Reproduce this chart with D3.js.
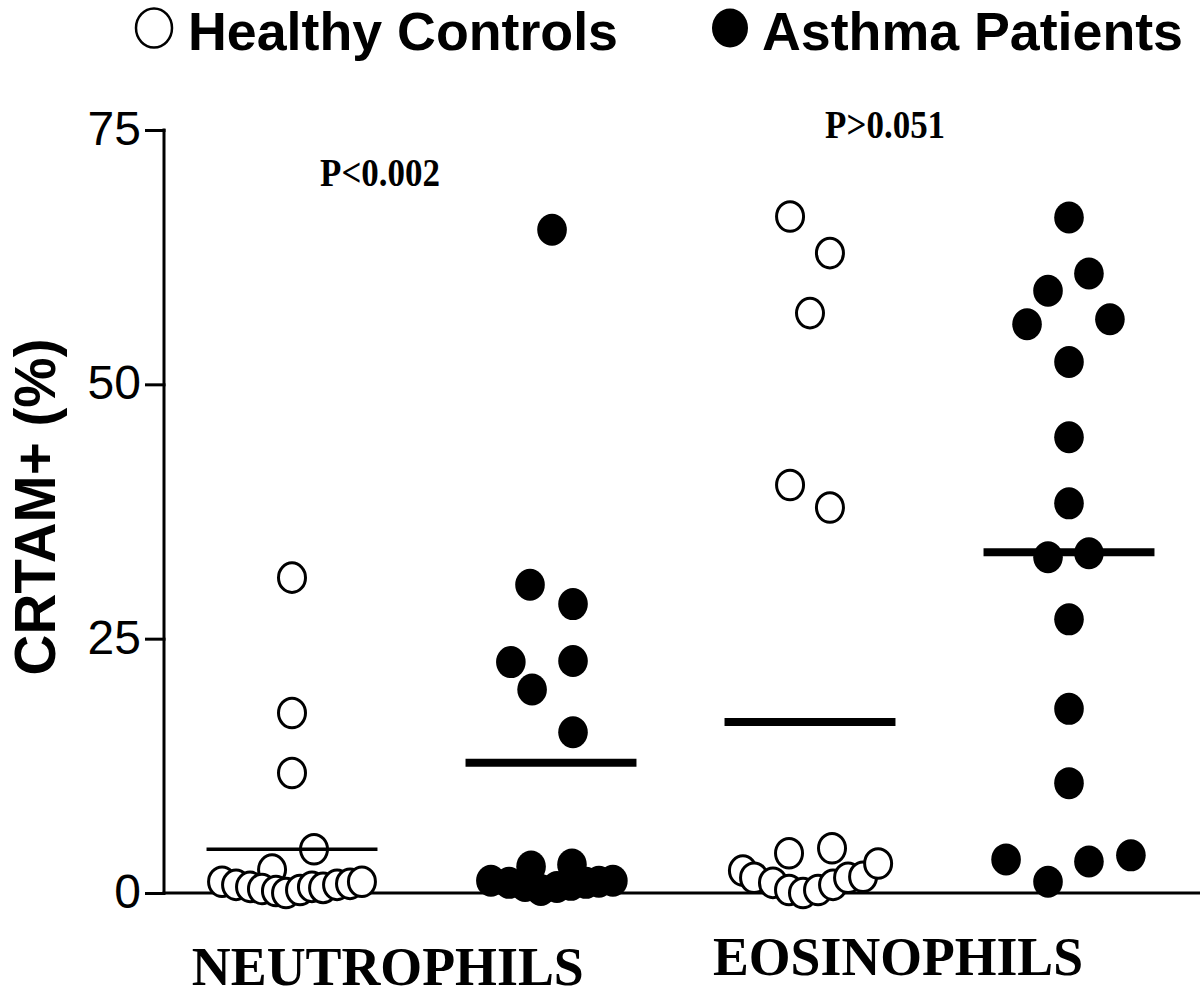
<!DOCTYPE html>
<html>
<head>
<meta charset="utf-8">
<script src="https://cdn.jsdelivr.net/npm/d3@7/dist/d3.min.js"></script>
<style>
  html, body { margin: 0; padding: 0; background: #fff; }
  svg { display: block; }
</style>
</head>
<body>
<svg id="chart" width="1200" height="997"></svg>
<script>
// ---- data (value in %, horizontal jitter in group-spacing units) ----
const groups = ["Neutrophils Healthy", "Neutrophils Asthma", "Eosinophils Healthy", "Eosinophils Asthma"];
const groupFilled = [false, true, false, true];

const neutroHealthyValues = [31.0, 17.7, 11.8, 4.3, 2.3, 1.1, 0.8, 0.6, 0.4, 0.2, 0.0, 0.3, 0.6, 0.5, 0.8, 0.9, 1.1];
const neutroHealthyJitter = [0, 0, 0, 0.085, -0.077, -0.27, -0.216, -0.162, -0.116, -0.062, -0.023, 0.031, 0.077, 0.12, 0.174, 0.224, 0.27];

const neutroAsthmaValues = [65.2, 30.3, 28.4, 22.7, 22.8, 20.0, 15.8, 1.2, 1.0, 0.7, 2.6, 0.3, 0.6, 2.8, 0.8, 1.0, 1.1, 1.2];
const neutroAsthmaJitter = [0.004, -0.081, 0.085, -0.155, 0.085, -0.073, 0.085, -0.232, -0.162, -0.1, -0.077, -0.039, 0.023, 0.081, 0.077, 0.135, 0.185, 0.239];

const eosHealthyValues = [66.5, 62.9, 57.0, 40.1, 37.9, 2.2, 1.5, 1.0, 3.9, 0.3, 0.0, 0.3, 4.4, 0.8, 1.5, 1.6, 2.9];
const eosHealthyJitter = [-0.077, 0.077, 0, -0.077, 0.077, -0.259, -0.216, -0.143, -0.081, -0.081, -0.027, 0.031, 0.085, 0.089, 0.147, 0.205, 0.263];

const eosAsthmaValues = [66.4, 60.9, 59.2, 55.9, 56.4, 52.2, 44.8, 38.3, 33.0, 33.4, 26.9, 18.1, 10.8, 3.3, 1.1, 3.1, 3.7];
const eosAsthmaJitter = [0, 0.077, -0.081, -0.162, 0.158, 0, 0, 0, -0.081, 0.077, 0, 0, 0, -0.243, -0.081, 0.077, 0.239];

const groupMeans = [4.3, 12.8, 16.8, 33.5];
const meanHalfWidth = 0.33;

const yTicks = [0, 25, 50, 75];
const yLabel = "CRTAM+ (%)";
const cellLabels = ["NEUTROPHILS", "EOSINOPHILS"];
const cellLabelPos = [0.37, 2.34];
const pValues = ["P<0.002", "P>0.051"];
const pValuePos = [0.34, 2.29];
const pValueY = [69.5, 74.2];
const legendLabels = ["Healthy Controls", "Asthma Patients"];

const valueSets = [neutroHealthyValues, neutroAsthmaValues, eosHealthyValues, eosAsthmaValues];
const jitterSets = [neutroHealthyJitter, neutroAsthmaJitter, eosHealthyJitter, eosAsthmaJitter];

// ---- layout ----
const svg = d3.select("#chart");
const axisX = 164;
const x = d3.scaleLinear().domain([0, 3]).range([292, 1069]);
const y = d3.scaleLinear().domain([0, 75]).range([893, 130]);

// points
const points = [];
valueSets.forEach((vals, g) => {
  vals.forEach((v, i) => points.push({ g, v, j: jitterSets[g][i], filled: groupFilled[g] }));
});

// axes
const yAxis = d3.axisLeft(y).tickValues(yTicks).tickSize(19).tickPadding(4);
const yg = svg.append("g").attr("transform", `translate(${axisX},0)`).call(yAxis);
yg.select(".domain").attr("stroke", "#000").attr("stroke-width", 3).attr("d", `M0,${y(75) - 1.5}V${y(0)}`);
yg.selectAll(".tick line").attr("stroke", "#000").attr("stroke-width", 3);
yg.selectAll(".tick line").attr("x1", 1.5);
yg.selectAll(".tick text")
  .attr("font-family", "Liberation Sans, Arial, sans-serif")
  .attr("font-size", 48)
  .attr("fill", "#000")
  .attr("dy", "0.3em");

// x baseline
svg.append("line")
  .attr("x1", axisX - 1.5).attr("x2", 1200)
  .attr("y1", y(0)).attr("y2", y(0))
  .attr("stroke", "#000").attr("stroke-width", 3);

// y label
svg.append("text")
  .attr("transform", `translate(55, ${507}) rotate(-90)`)
  .attr("text-anchor", "middle")
  .attr("font-family", "Liberation Sans, Arial, sans-serif")
  .attr("font-weight", "bold")
  .attr("font-size", 58)
  .attr("textLength", 337)
  .attr("lengthAdjust", "spacingAndGlyphs")
  .text(yLabel);

// points
svg.append("g").selectAll("ellipse")
  .data(points)
  .join("ellipse")
  .attr("cx", d => x(d.g + d.j))
  .attr("cy", d => y(d.v))
  .attr("rx", d => d.filled ? 14.8 : 13.5)
  .attr("ry", d => d.filled ? 16 : 14.8)
  .attr("fill", d => d.filled ? "#000" : "#fff")
  .attr("stroke", "#000")
  .attr("stroke-width", d => d.filled ? 0 : 3);

// mean lines
svg.append("g").selectAll("line")
  .data(groupMeans)
  .join("line")
  .attr("x1", (d, i) => x(i - meanHalfWidth))
  .attr("x2", (d, i) => x(i + meanHalfWidth))
  .attr("y1", d => y(d))
  .attr("y2", d => y(d))
  .attr("stroke", "#000")
  .attr("stroke-width", (d, i) => i === 0 ? 3.5 : 8);

// category labels
svg.append("g").selectAll("text")
  .data(cellLabels)
  .join("text")
  .attr("x", (d, i) => x(cellLabelPos[i]))
  .attr("y", (d, i) => i === 0 ? 985 : 975)
  .attr("text-anchor", "middle")
  .attr("font-family", "Liberation Serif, Times New Roman, serif")
  .attr("font-weight", "bold")
  .attr("font-size", 54)
  .attr("textLength", (d, i) => i === 0 ? 392 : 370)
  .attr("lengthAdjust", "spacingAndGlyphs")
  .text(d => d);

// p values
svg.append("g").selectAll("text")
  .data(pValues)
  .join("text")
  .attr("x", (d, i) => x(pValuePos[i]))
  .attr("y", (d, i) => y(pValueY[i]))
  .attr("text-anchor", "middle")
  .attr("font-family", "Liberation Serif, Times New Roman, serif")
  .attr("font-weight", "bold")
  .attr("font-size", 39)
  .attr("textLength", 120)
  .attr("lengthAdjust", "spacingAndGlyphs")
  .text(d => d);

// legend
const legendX = [154, 730];
const lg = svg.append("g").selectAll("g")
  .data(legendLabels)
  .join("g")
  .attr("transform", (d, i) => `translate(${legendX[i]}, 28)`);
lg.append("ellipse")
  .attr("rx", 18).attr("ry", 19.5)
  .attr("fill", (d, i) => i === 0 ? "#fff" : "#000")
  .attr("stroke", "#000")
  .attr("stroke-width", (d, i) => i === 0 ? 2.5 : 0);
lg.append("text")
  .attr("x", (d, i) => i === 0 ? 34 : 32)
  .attr("y", 22)
  .attr("font-family", "Liberation Sans, Arial, sans-serif")
  .attr("font-weight", "bold")
  .attr("font-size", 54)
  .attr("textLength", (d, i) => i === 0 ? 430 : 421)
  .attr("lengthAdjust", "spacingAndGlyphs")
  .text(d => d);
</script>
</body>
</html>
